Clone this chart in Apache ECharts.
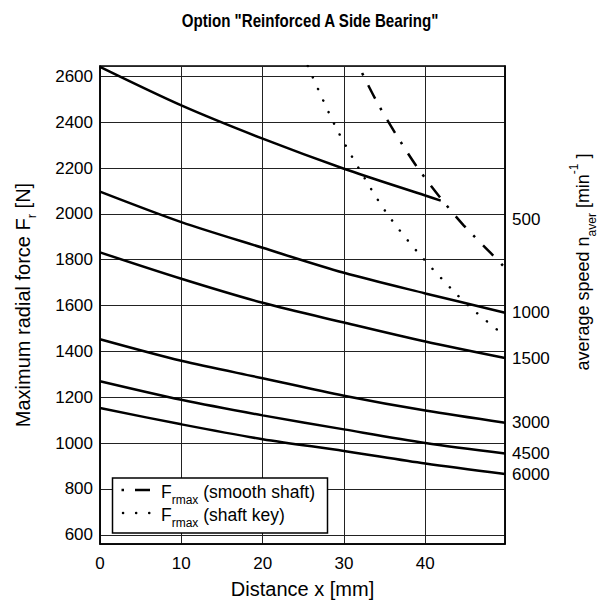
<!DOCTYPE html>
<html>
<head>
<meta charset="utf-8">
<script src="https://cdn.jsdelivr.net/npm/echarts@6/dist/echarts.min.js"></script>
<style>html,body{margin:0;padding:0;background:#fff}#c{width:606px;height:604px}</style>
</head>
<body>
<div id="c"></div>
<script>
// ---- data ----
var titleText = 'Option "Reinforced A Side Bearing"';
var xValues = [0, 10, 20, 30, 40, 49.8];
var n500X = [0, 10, 20, 30, 40, 41.9];
var n500 = [2641, 2473, 2328, 2197, 2080, 2058];
var n1000 = [2097, 1964, 1852, 1743, 1653, 1569];
var n1500 = [1832, 1717, 1612, 1526, 1443, 1371];
var n3000 = [1453, 1359, 1283, 1207, 1142, 1089];
var n4500 = [1270, 1189, 1121, 1060, 1001, 955];
var n6000 = [1153, 1082, 1017, 966, 911, 865];
var smoothShaftX = [31.8, 34.07, 36.41, 38.92, 41.75, 44.74, 48.03, 49.84];
var smoothShaftY = [2645, 2487, 2346, 2208, 2075, 1949, 1830, 1764];
var shaftKeyX = [25.55, 28.9, 31.9, 35.2, 39.08, 43.27, 45.48, 49.1, 49.8];
var shaftKeyY = [2645, 2385, 2194, 2006, 1832, 1670, 1594, 1487, 1468];
var speedLabels = ['500', '1000', '1500', '3000', '4500', '6000'];
var speedLabelPos = [1975, 1569, 1371, 1089, 955, 865];

function pairs(xs, ys) { return xs.map(function (x, i) { return [x, ys[i]]; }); }

var FONT = '"Liberation Sans", Arial, Helvetica, sans-serif';
var solid = { color: '#000', width: 2.5 };
function curve(name, xs, ys) {
  return { name: name, type: 'line', data: pairs(xs, ys), smooth: 0.3, showSymbol: false,
    lineStyle: solid, itemStyle: { color: '#000' }, silent: true, animation: false, z: 5 };
}
var subRich = function (size, va) { return { fontFamily: FONT, fontSize: size, lineHeight: size, verticalAlign: va, color: '#000', fill: '#000' }; };

var chart = echarts.init(document.getElementById('c'), null, { renderer: 'svg' });
chart.setOption({
  backgroundColor: '#fff',
  animation: false,
  grid: { left: 100, right: 101, top: 66, bottom: 58, show: true, borderColor: '#000', borderWidth: 1.5, backgroundColor: 'transparent' },
  xAxis: {
    type: 'value', min: 0, max: 49.8, interval: 10,
    name: 'Distance x [mm]', nameLocation: 'middle', nameGap: 35,
    nameTextStyle: { fontFamily: FONT, fontSize: 20, color: '#000' },
    axisLine: { show: true, lineStyle: { color: '#000', width: 1.5 } },
    axisTick: { show: false },
    axisLabel: { fontFamily: FONT, fontSize: 17, color: '#000', margin: 11, showMaxLabel: false,
      formatter: function (v) { return String(v); } },
    splitLine: { show: true, lineStyle: { color: '#222', width: 1 } }
  },
  yAxis: [{
    type: 'value', min: 560, max: 2645, splitNumber: 10,
    name: '{a|Maximum radial force F}{s|r}{a| [N]}', nameLocation: 'middle', nameGap: 62, nameRotate: 90,
    nameTextStyle: { fontFamily: FONT, color: '#000',
      rich: { a: { fontFamily: FONT, fontSize: 20, lineHeight: 30, color: '#000' },
              s: subRich(13, 'bottom') } },
    axisLine: { show: true, lineStyle: { color: '#000', width: 1.5 } },
    axisTick: { show: false },
    axisLabel: { fontFamily: FONT, fontSize: 17, color: '#000', margin: 7, showMaxLabel: false, showMinLabel: false,
      formatter: function (v) { return String(v); } },
    splitLine: { show: true, lineStyle: { color: '#222', width: 1 } }
  }, {
    type: 'value', min: 560, max: 2645, position: 'right',
    axisLine: { show: true, lineStyle: { color: '#000', width: 1.5 } },
    axisTick: { show: false },
    splitLine: { show: false },
    axisLabel: {
      customValues: speedLabelPos,
      fontFamily: FONT, fontSize: 17, color: '#000', margin: 7,
      formatter: function (v) {
        var i = speedLabelPos.indexOf(v);
        return i >= 0 ? speedLabels[i] : '';
      }
    }
  }],
  graphic: [
    { type: 'text', x: 310, y: 21, scaleX: 0.84, silent: true,
      style: { text: titleText, align: 'center', verticalAlign: 'middle', fontFamily: FONT, fontWeight: 'bold', fontSize: 18, fill: '#000' } },
    { type: 'text', x: 583, y: 262, rotation: Math.PI / 2, silent: true,
      style: { text: '{a|average speed n}{s|aver}{a| [min}{p|-1}{a| ]}', align: 'center', verticalAlign: 'middle',
        rich: { a: { fontFamily: FONT, fontSize: 18, lineHeight: 30, fill: '#000' },
                s: subRich(12, 'bottom'), p: subRich(12, 'top') } } },
    { type: 'rect', silent: true, shape: { x: 112.5, y: 478, width: 215, height: 55 },
      style: { fill: '#fff', stroke: '#000', lineWidth: 1.5 }, z: 10 },
    { type: 'line', silent: true, shape: { x1: 121.5, y1: 490, x2: 124, y2: 490 }, style: { stroke: '#000', lineWidth: 2.5 }, z: 11 },
    { type: 'line', silent: true, shape: { x1: 135, y1: 490, x2: 150, y2: 490 }, style: { stroke: '#000', lineWidth: 2.5 }, z: 11 },
    { type: 'line', silent: true, shape: { x1: 123, y1: 513, x2: 150, y2: 513 }, style: { stroke: '#000', lineWidth: 2.5, lineDash: [0.1, 13], lineCap: 'round' }, z: 11 },
    { type: 'text', silent: true, x: 161, y: 492, z: 11,
      style: { text: '{a|F}{s|rmax}{a| (smooth shaft)}', verticalAlign: 'middle',
        rich: { a: { fontFamily: FONT, fontSize: 17.5, lineHeight: 28, fill: '#000' }, s: subRich(12, 'bottom') } } },
    { type: 'text', silent: true, x: 161, y: 515, z: 11,
      style: { text: '{a|F}{s|rmax}{a| (shaft key)}', verticalAlign: 'middle',
        rich: { a: { fontFamily: FONT, fontSize: 17.5, lineHeight: 28, fill: '#000' }, s: subRich(12, 'bottom') } } }
  ],
  series: [
    curve('500', n500X, n500),
    curve('1000', xValues, n1000),
    curve('1500', xValues, n1500),
    curve('3000', xValues, n3000),
    curve('4500', xValues, n4500),
    curve('6000', xValues, n6000),
    { name: 'Frmax (smooth shaft)', type: 'line', data: pairs(smoothShaftX, smoothShaftY), smooth: 0.3, showSymbol: false,
      silent: true, animation: false, z: 4,
      lineStyle: { color: '#000', width: 2.5, type: [15, 11, 2.5, 11], dashOffset: 18 } },
    { name: 'Frmax (shaft key)', type: 'line', data: pairs(shaftKeyX, shaftKeyY), smooth: 0.3, showSymbol: false,
      silent: true, animation: false, z: 4,
      lineStyle: { color: '#000', width: 2.5, type: [0.1, 12.5], cap: 'round' } }
  ]
});
</script>
</body>
</html>
